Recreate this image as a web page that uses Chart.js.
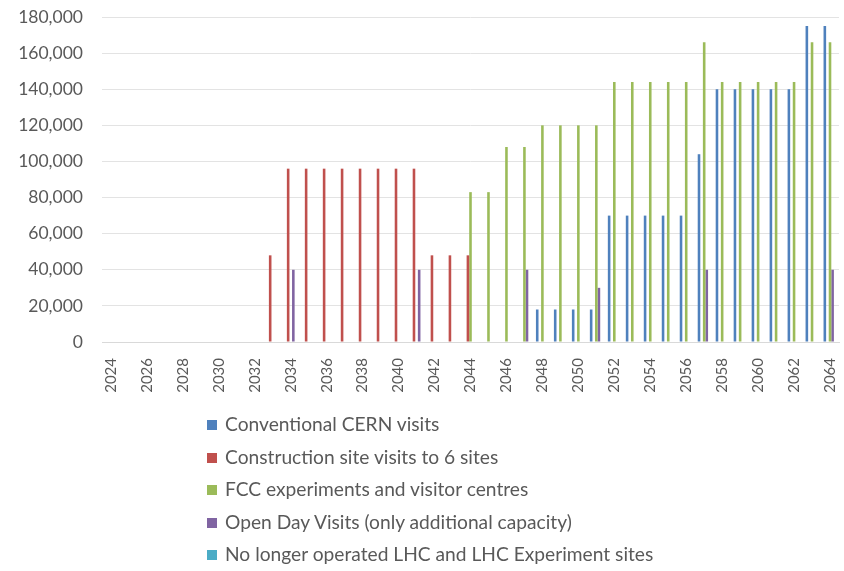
<!DOCTYPE html>
<html>
<head>
<meta charset="utf-8">
<script src="https://cdn.jsdelivr.net/npm/chart.js@4/dist/chart.umd.min.js"></script>
<style>
  html, body { margin: 0; padding: 0; background: #ffffff; }
  #wrap { position: relative; width: 844px; height: 571px; }
  #chart { position: absolute; left: 0; top: 0; }
  #legend { position: absolute; left: 207px; top: 409px; margin: 0; padding: 0; list-style: none;
            font-family: Lato, "Open Sans", sans-serif; font-size: 19.2px; color: #595959; }
  #legend li { height: 32.5px; line-height: 30px; white-space: nowrap; }
  #legend .box { display: inline-block; width: 10px; height: 10px; margin-right: 8px; vertical-align: 1px; }
</style>
</head>
<body>
<div id="wrap">
  <canvas id="chart" width="844" height="571"></canvas>
  <ul id="legend"></ul>
</div>
<script>
// Years on the category axis
const years = [
  2024, 2025, 2026, 2027, 2028, 2029, 2030, 2031, 2032, 2033,
  2034, 2035, 2036, 2037, 2038, 2039, 2040, 2041, 2042, 2043,
  2044, 2045, 2046, 2047, 2048, 2049, 2050, 2051, 2052, 2053,
  2054, 2055, 2056, 2057, 2058, 2059, 2060, 2061, 2062, 2063,
  2064
];

// Visitors per year, one array per visit type (null = no visits)
const conventionalVisits = [
  null, null, null, null, null, null, null, null, null, null,
  null, null, null, null, null, null, null, null, null, null,
  null, null, null, null, 18000, 18000, 18000, 18000, 70000, 70000,
  70000, 70000, 70000, 104000, 140000, 140000, 140000, 140000, 140000, 175000,
  175000
];
const constructionVisits = [
  null, null, null, null, null, null, null, null, null, 48000,
  96000, 96000, 96000, 96000, 96000, 96000, 96000, 96000, 48000, 48000,
  48000, null, null, null, null, null, null, null, null, null,
  null, null, null, null, null, null, null, null, null, null,
  null
];
const fccVisits = [
  null, null, null, null, null, null, null, null, null, null,
  null, null, null, null, null, null, null, null, null, null,
  83000, 83000, 108000, 108000, 120000, 120000, 120000, 120000, 144000, 144000,
  144000, 144000, 144000, 166000, 144000, 144000, 144000, 144000, 144000, 166000,
  166000
];
const openDayVisits = [
  null, null, null, null, null, null, null, null, null, null,
  40000, null, null, null, null, null, null, 40000, null, null,
  null, null, null, 40000, null, null, null, 30000, null, null,
  null, null, null, 40000, null, null, null, null, null, null,
  40000
];
const lhcSiteVisits = [
  null, null, null, null, null, null, null, null, null, null,
  null, null, null, null, null, null, null, null, null, null,
  null, null, null, null, null, null, null, null, null, null,
  null, null, null, null, null, null, null, null, null, null,
  null
];

const seriesLabels = [
  'Conventional CERN visits',
  'Construction site visits to 6 sites',
  'FCC experiments and visitor centres',
  'Open Day Visits (only additional capacity)',
  'No longer operated LHC and LHC Experiment sites'
];
const seriesColors = ['#4F81BD', '#C0504D', '#9BBB59', '#8064A2', '#4BACC6'];
const seriesData = [conventionalVisits, constructionVisits, fccVisits, openDayVisits, lhcSiteVisits];

// Y-axis tick values
const yTicks = [0, 20000, 40000, 60000, 80000, 100000, 120000, 140000, 160000, 180000];

Chart.defaults.font.family = 'Lato, "Open Sans", sans-serif';
Chart.defaults.color = '#595959';

const datasets = seriesLabels.map((label, i) => ({
  label: label,
  data: seriesData[i],
  backgroundColor: seriesColors[i],
  borderWidth: 0,
  categoryPercentage: 0.72,
  barPercentage: 1.0
}));

new Chart(document.getElementById('chart'), {
  type: 'bar',
  data: { labels: years.map(String), datasets: datasets },
  options: {
    responsive: false,
    animation: false,
    layout: { padding: { top: 17, right: 5, bottom: 0, left: 0 } },
    plugins: {
      legend: { display: false },
      tooltip: { enabled: false }
    },
    scales: {
      x: {
        grid: { display: false },
        border: { display: true, color: '#d9d9d9' },
        ticks: {
          autoSkip: false,
          minRotation: 90,
          maxRotation: 90,
          padding: 8,
          font: { size: 15 },
          callback: (v, idx) => (idx % 2 === 0 ? String(years[idx]) : '')
        },
        afterFit: (scale) => {
          scale.height = 229;
          scale.paddingLeft = 0;
          scale.paddingRight = 0;
        }
      },
      y: {
        min: yTicks[0],
        max: yTicks[yTicks.length - 1],
        afterBuildTicks: (scale) => { scale.ticks = yTicks.map(v => ({ value: v })); },
        grid: { color: '#e3e3e3', drawTicks: false },
        border: { display: false },
        ticks: {
          padding: 19,
          font: { size: 17.5 },
          callback: (v) => Number(v).toLocaleString('en-US')
        },
        afterFit: (scale) => {
          scale.width = 102;
          scale.paddingTop = 0;
          scale.paddingBottom = 0;
        }
      }
    }
  }
});

// Vertical legend below the chart
const legendEl = document.getElementById('legend');
seriesLabels.forEach((label, i) => {
  const li = document.createElement('li');
  const box = document.createElement('span');
  box.className = 'box';
  box.style.background = seriesColors[i];
  li.appendChild(box);
  li.appendChild(document.createTextNode(label));
  legendEl.appendChild(li);
});
</script>
</body>
</html>
